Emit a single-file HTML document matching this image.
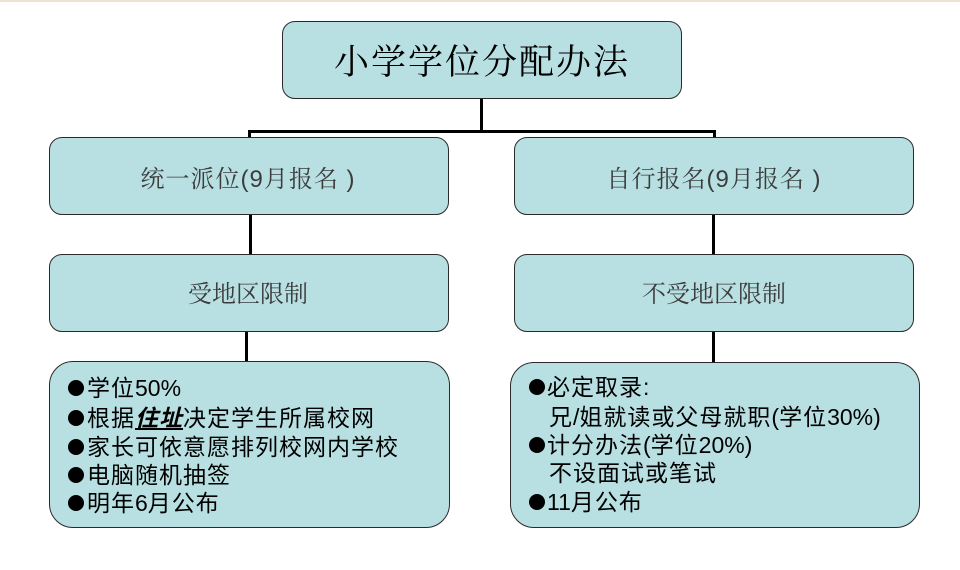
<!DOCTYPE html>
<html>
<head>
<meta charset="utf-8">
<style>
  html,body{margin:0;padding:0;}
  body{width:960px;height:570px;background:#fff;position:relative;overflow:hidden;}
  .strip{position:absolute;left:0;top:0;width:960px;height:2px;background:#eee3d2;}
  .box{position:absolute;box-sizing:border-box;background:#b8e0e2;border:1.3px solid #2a2a2a;}
  .r12{border-radius:13px;}
  .r24{border-radius:24px;}
  .line{position:absolute;background:#000;}
  .c{position:absolute;white-space:nowrap;text-align:center;}
  .title{font-family:"Liberation Serif","Noto Serif CJK SC",serif;font-size:35px;letter-spacing:2px;color:#000;}
  .mid{font-family:"Liberation Sans","Noto Serif CJK SC",serif;font-size:24px;color:#3c3c3c;}
  .li{position:absolute;white-space:nowrap;font-family:"Liberation Sans","Noto Sans CJK SC",sans-serif;font-size:23px;letter-spacing:1px;color:#000;line-height:28px;height:28px;}
  .n{letter-spacing:0;}
  .dot{position:absolute;width:16px;height:16px;border-radius:50%;background:#000;}
  .em{font-weight:bold;font-style:italic;text-decoration:underline;}
</style>
</head>
<body>
<div class="strip"></div>

<!-- connectors -->
<div class="line" style="left:480px;top:99px;width:3px;height:34px;"></div>
<div class="line" style="left:248px;top:130px;width:468px;height:3px;"></div>
<div class="line" style="left:248px;top:130px;width:3px;height:8px;"></div>
<div class="line" style="left:713px;top:130px;width:3px;height:8px;"></div>
<div class="line" style="left:249px;top:214px;width:3px;height:41px;"></div>
<div class="line" style="left:712px;top:214px;width:3px;height:41px;"></div>
<div class="line" style="left:245px;top:331px;width:3px;height:31px;"></div>
<div class="line" style="left:712px;top:331px;width:3px;height:32px;"></div>

<!-- top -->
<div class="box r12" style="left:282px;top:21px;width:400px;height:78px;"></div>
<div class="c title" style="left:282px;top:38px;width:400px;line-height:50px;">小学学位分配办法</div>

<!-- middle left -->
<div class="box r12" style="left:49px;top:137px;width:400px;height:78px;"></div>
<div class="c mid" style="left:49px;top:163px;width:398px;line-height:34px;letter-spacing:1px;">统一派位(9月报名 )</div>
<div class="box r12" style="left:49px;top:254px;width:400px;height:78px;"></div>
<div class="c mid" style="left:49px;top:278px;width:398px;line-height:34px;">受地区限制</div>

<!-- middle right -->
<div class="box r12" style="left:514px;top:137px;width:400px;height:78px;"></div>
<div class="c mid" style="left:514px;top:163px;width:400px;line-height:34px;letter-spacing:1px;">自行报名(9月报名 )</div>
<div class="box r12" style="left:514px;top:254px;width:400px;height:78px;"></div>
<div class="c mid" style="left:514px;top:278px;width:400px;line-height:34px;">不受地区限制</div>

<!-- bottom left -->
<div class="box r24" style="left:49px;top:361px;width:401px;height:167px;"></div>
<div class="dot" style="left:68px;top:380px;"></div>
<div class="li" style="left:87px;top:374px;">学位<span class="n">50%</span></div>
<div class="dot" style="left:68px;top:410px;"></div>
<div class="li" style="left:87px;top:404px;">根据<span class="em">住址</span>决定学生所属校网</div>
<div class="dot" style="left:68px;top:439px;"></div>
<div class="li" style="left:87px;top:433px;">家长可依意愿排列校网内学校</div>
<div class="dot" style="left:68px;top:467px;"></div>
<div class="li" style="left:87px;top:461px;">电脑随机抽签</div>
<div class="dot" style="left:68px;top:495px;"></div>
<div class="li" style="left:87px;top:489px;">明年<span class="n">6</span>月公布</div>

<!-- bottom right -->
<div class="box r24" style="left:510px;top:362px;width:410px;height:166px;"></div>
<div class="dot" style="left:529px;top:379px;"></div>
<div class="li" style="left:547px;top:373px;">必定取录:</div>
<div class="li" style="left:549px;top:403px;">兄<span class="n">/</span>姐就读或父母就职<span class="n">(</span>学位<span class="n">30%)</span></div>
<div class="dot" style="left:529px;top:437px;"></div>
<div class="li" style="left:547px;top:431px;">计分办法<span class="n">(</span>学位<span class="n">20%)</span></div>
<div class="li" style="left:549px;top:459px;">不设面试或笔试</div>
<div class="dot" style="left:529px;top:494px;"></div>
<div class="li" style="left:547px;top:488px;"><span class="n">11</span>月公布</div>
</body>
</html>
